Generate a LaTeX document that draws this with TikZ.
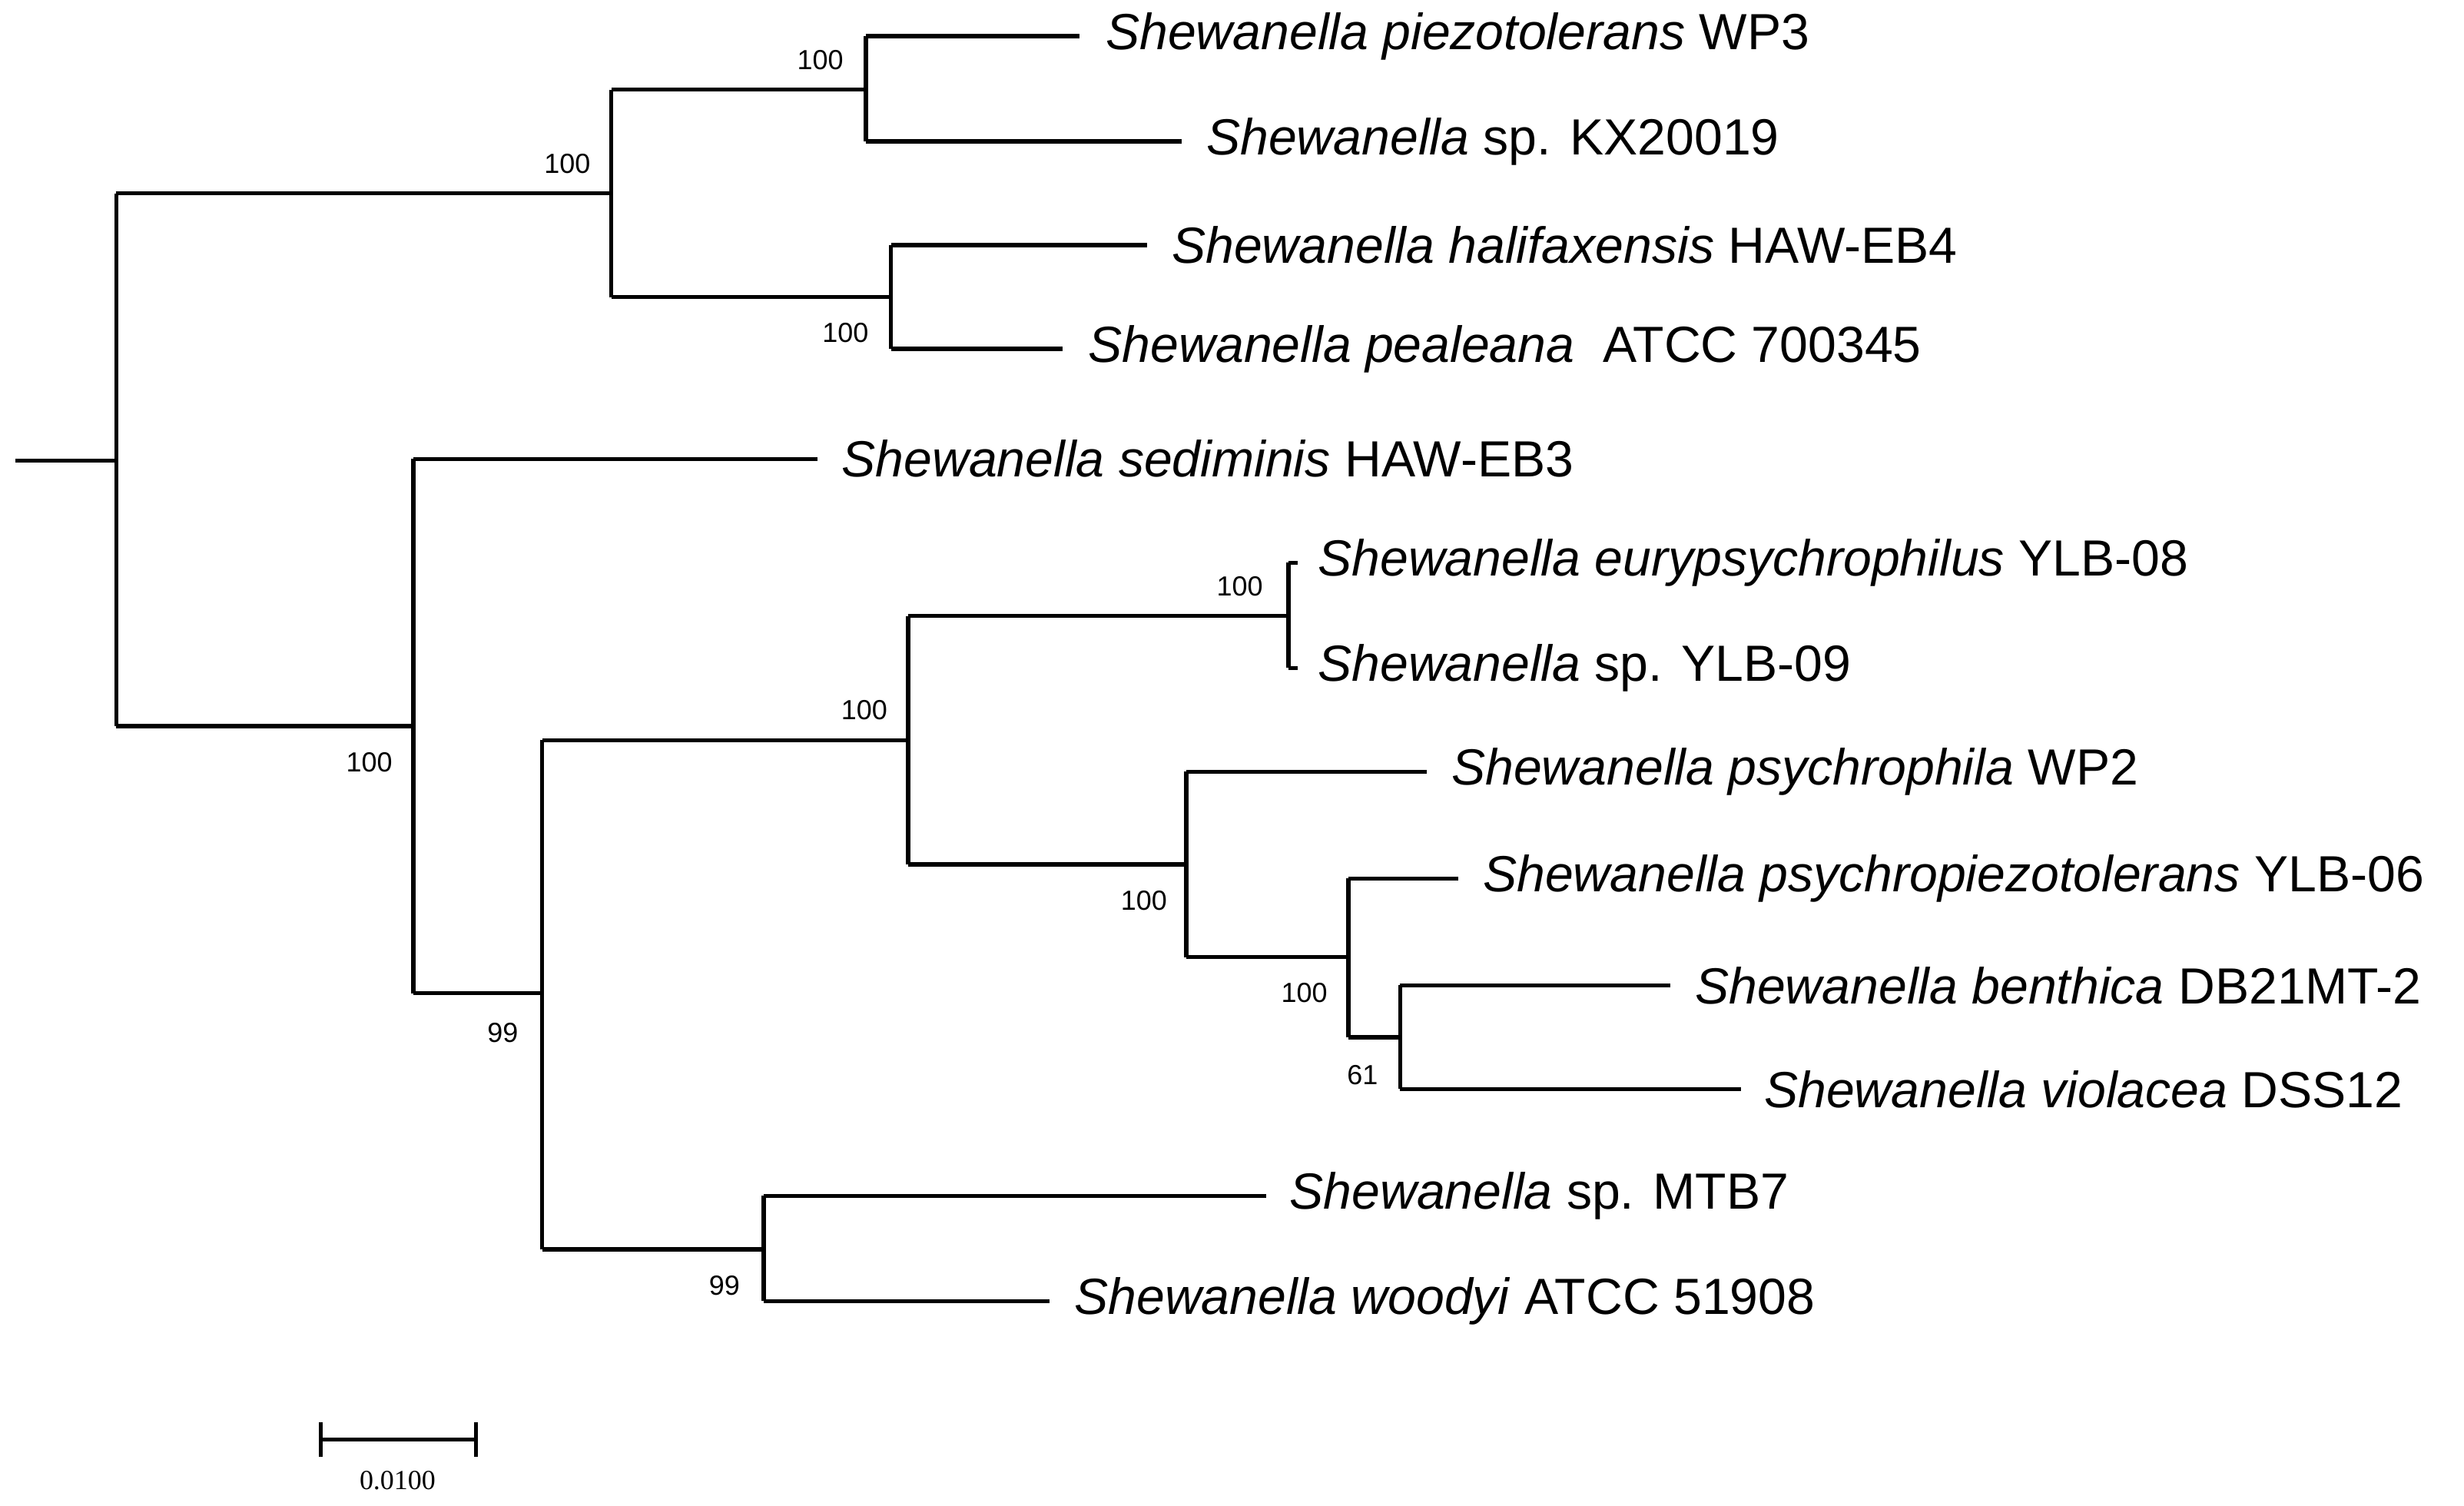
\documentclass[tikz,border=0pt]{standalone}
\usepackage{fontspec}
\setmainfont{Liberation Sans}
\newfontfamily\scalefont{Liberation Serif}
\begin{document}
\begin{tikzpicture}[x=0.01cm,y=-0.01cm,
  br/.style={line width=0.75pt},
  leaf/.style={anchor=west,inner sep=0pt,font=\fontsize{9.2}{10}\selectfont},
  bs/.style={inner sep=0pt,font=\fontsize{5}{6}\selectfont}]
\useasboundingbox (0,0) rectangle (1568,958);
% internal node coordinates
\coordinate (R) at (74,293);
\coordinate (R0) at (10,293);
\coordinate (A) at (389,123);
\coordinate (A1) at (551,57);
\coordinate (A2) at (567,189);
\coordinate (B) at (263,462);
\coordinate (C) at (345,632);
\coordinate (D) at (578,471);
\coordinate (E) at (820,392);
\coordinate (F) at (755,550);
\coordinate (G) at (858,609);
\coordinate (H) at (891,660);
\coordinate (I) at (486,795);
% leaves
\node[leaf] (l1) at (703,23) {\textit{Shewanella piezotolerans} WP3};
\node[leaf] (l2) at (767,90) {\textit{Shewanella} sp. KX20019};
\node[leaf] (l3) at (745,156) {\textit{Shewanella halifaxensis} HAW-EB4};
\node[leaf] (l4) at (692,222) {\textit{Shewanella pealeana}\ \ ATCC 700345};
\node[leaf] (l5) at (535,292) {\textit{Shewanella sediminis} HAW-EB3};
\node[leaf] (l6) at (838,358) {\textit{Shewanella eurypsychrophilus} YLB-08};
\node[leaf] (l7) at (838,425) {\textit{Shewanella} sp. YLB-09};
\node[leaf] (l8) at (923,491) {\textit{Shewanella psychrophila} WP2};
\node[leaf] (l9) at (943,559) {\textit{Shewanella psychropiezotolerans} YLB-06};
\node[leaf] (l10) at (1078,627) {\textit{Shewanella benthica} DB21MT-2};
\node[leaf] (l11) at (1122,693) {\textit{Shewanella violacea} DSS12};
\node[leaf] (l12) at (820,761) {\textit{Shewanella} sp. MTB7};
\node[leaf] (l13) at (683,828) {\textit{Shewanella woodyi} ATCC 51908};
% branches
\draw[br] (R0) -- (R);
\draw[br] (A -| R) -- (B -| R);
\draw[br] (R |- A) -- (A);
\draw[br] (A |- A1) -- (A |- A2);
\draw[br] (A |- A1) -- (A1); \draw[br] (A |- A2) -- (A2);
\draw[br] (A1 |- l1) -- (A1 |- l2);
\draw[br] (A1 |- l1) -- (687,23); \draw[br] (A1 |- l2) -- (752,90);
\draw[br] (A2 |- l3) -- (A2 |- l4);
\draw[br] (A2 |- l3) -- (730,156); \draw[br] (A2 |- l4) -- (676,222);
\draw[br] (R |- B) -- (B);
\draw[br] (B |- l5) -- (B |- C);
\draw[br] (B |- l5) -- (520,292);
\draw[br] (B |- C) -- (C);
\draw[br] (C |- D) -- (C |- I);
\draw[br] (C |- D) -- (D); \draw[br] (C |- I) -- (I);
\draw[br] (D |- E) -- (D |- F);
\draw[br] (D |- E) -- (E); \draw[br] (D |- F) -- (F);
\draw[br] (E |- l6) -- (E |- l7);
\draw[br] (E |- l6) -- (826,358); \draw[br] (E |- l7) -- (826,425);
\draw[br] (F |- l8) -- (F |- G);
\draw[br] (F |- l8) -- (908,491); \draw[br] (F |- G) -- (G);
\draw[br] (G |- l9) -- (G |- H);
\draw[br] (G |- l9) -- (928,559); \draw[br] (G |- H) -- (H);
\draw[br] (H |- l10) -- (H |- l11);
\draw[br] (H |- l10) -- (1063,627); \draw[br] (H |- l11) -- (1108,693);
\draw[br] (I |- l12) -- (I |- l13);
\draw[br] (I |- l12) -- (806,761); \draw[br] (I |- l13) -- (668,828);
% bootstrap labels
\node[bs] (bA1) at (522,38) {100};
\node[bs] (bA) at (361,104) {100};
\node[bs] (bA2) at (538,212) {100};
\node[bs] (bB) at (235,485) {100};
\node[bs] (bC) at (320,657) {99};
\node[bs] (bD) at (550,452) {100};
\node[bs] (bE) at (789,373) {100};
\node[bs] (bF) at (728,573) {100};
\node[bs] (bG) at (830,632) {100};
\node[bs] (bH) at (867,684) {61};
\node[bs] (bI) at (461,818) {99};
% scale bar
\coordinate (s1) at (204,916); \coordinate (s2) at (303,916);
\draw[br] (s1) -- (s2);
\draw[br] (204,905) -- (204,927); \draw[br] (303,905) -- (303,927);
\node[inner sep=0pt,font=\scalefont\fontsize{5}{6}\selectfont] (sl) at (253,942) {0.0100};
\end{tikzpicture}
\end{document}
